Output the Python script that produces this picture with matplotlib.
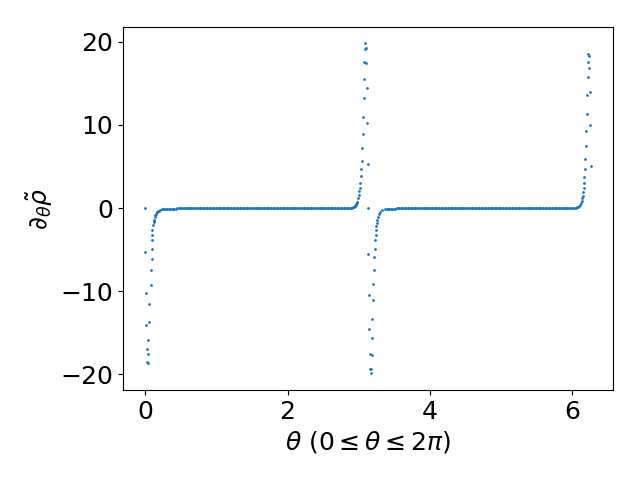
import matplotlib
matplotlib.use("Agg")
import matplotlib.pyplot as plt

# spike near theta = 0
theta_a = [0.0, 0.0, 0.014, 0.014, 0.03, 0.03, 0.044, 0.044, 0.044, 0.06, 0.06,
           0.075, 0.075, 0.09, 0.09, 0.10, 0.10, 0.10, 0.115, 0.12, 0.125, 0.13,
           0.138, 0.145, 0.15, 0.16, 0.168, 0.175, 0.19, 0.21, 0.23]
rho_a = [0.0, -5.3, -10.2, -14.1, -17.0, -18.5, -17.6, -18.6, -15.9, -13.7, -11.5,
         -9.3, -7.5, -6.1, -4.9, -3.9, -3.2, -2.6, -2.1, -1.7, -1.55, -1.4,
         -1.1, -0.85, -0.7, -0.5, -0.45, -0.38, -0.3, -0.2, -0.15]

# flat part between 0 and pi
theta_flat1 = [
    0.25, 0.27, 0.29, 0.31, 0.33, 0.35, 0.37, 0.39, 0.41, 0.43,
    0.45, 0.47, 0.49, 0.51, 0.53, 0.55, 0.57, 0.59, 0.61, 0.63,
    0.65, 0.67, 0.69, 0.71, 0.73, 0.75, 0.77, 0.79, 0.81, 0.83,
    0.85, 0.87, 0.89, 0.91, 0.93, 0.95, 0.97, 0.99, 1.01, 1.03,
    1.05, 1.07, 1.09, 1.11, 1.13, 1.15, 1.17, 1.19, 1.21, 1.23,
    1.25, 1.27, 1.29, 1.31, 1.33, 1.35, 1.37, 1.39, 1.41, 1.43,
    1.45, 1.47, 1.49, 1.51, 1.53, 1.55, 1.57, 1.59, 1.61, 1.63,
    1.65, 1.67, 1.69, 1.71, 1.73, 1.75, 1.77, 1.79, 1.81, 1.83,
    1.85, 1.87, 1.89, 1.91, 1.93, 1.95, 1.97, 1.99, 2.01, 2.03,
    2.05, 2.07, 2.09, 2.11, 2.13, 2.15, 2.17, 2.19, 2.21, 2.23,
    2.25, 2.27, 2.29, 2.31, 2.33, 2.35, 2.37, 2.39, 2.41, 2.43,
    2.45, 2.47, 2.49, 2.51, 2.53, 2.55, 2.57, 2.59, 2.61, 2.63,
    2.65, 2.67, 2.69, 2.71, 2.73, 2.75, 2.77, 2.79, 2.81, 2.83,
    2.85, 2.87, 2.89]
rho_flat1 = [
    -0.12, -0.12, -0.12, -0.12, -0.12, -0.12, -0.11, -0.10, -0.08, -0.06,
    -0.04, -0.03, -0.02, -0.02, -0.01, 0.0, 0.0, 0.0, 0.0, 0.0,
    0.0, 0.0, 0.0, 0.0, 0.0, 0.0, 0.0, 0.0, 0.0, 0.0,
    0.0, 0.0, 0.0, 0.0, 0.0, 0.0, 0.0, 0.0, 0.0, 0.0,
    0.0, 0.0, 0.0, 0.0, 0.0, 0.0, 0.0, 0.0, 0.0, 0.0,
    0.0, 0.0, 0.0, 0.0, 0.0, 0.0, 0.0, 0.0, 0.0, 0.0,
    0.0, 0.0, 0.0, 0.0, 0.0, 0.0, 0.0, 0.0, 0.0, 0.0,
    0.0, 0.0, 0.0, 0.0, 0.0, 0.0, 0.0, 0.0, 0.0, 0.0,
    0.0, 0.0, 0.0, 0.0, 0.0, 0.0, 0.0, 0.0, 0.0, 0.0,
    0.0, 0.0, 0.0, 0.0, 0.0, 0.0, 0.0, 0.0, 0.0, 0.0,
    0.0, 0.0, 0.0, 0.0, 0.0, 0.0, 0.0, 0.0, 0.0, 0.0,
    0.0, 0.0, 0.0, 0.0, 0.0, 0.0, 0.0, 0.0, 0.0, 0.0,
    0.0, 0.0, 0.0, 0.0, 0.0, 0.0, 0.0, 0.0, 0.01, 0.01,
    0.02, 0.02, 0.03]

# spike around theta = pi
theta_b = [2.90, 2.92, 2.935, 2.945, 2.95, 2.96, 2.965, 2.97, 2.98, 2.99,
           3.005, 3.005, 3.02, 3.02, 3.034, 3.034, 3.048, 3.048, 3.062, 3.062,
           3.076, 3.076, 3.076, 3.09, 3.09, 3.104, 3.104, 3.118, 3.118, 3.132,
           3.132, 3.132, 3.146, 3.146, 3.16, 3.16, 3.174, 3.174, 3.188, 3.188,
           3.188, 3.202, 3.202, 3.216, 3.216, 3.23, 3.23, 3.244, 3.244, 3.244,
           3.258, 3.258, 3.272, 3.285, 3.30, 3.33, 3.37, 3.39]
rho_b = [0.05, 0.1, 0.16, 0.22, 0.3, 0.38, 0.45, 0.58, 0.76, 1.2,
         1.6, 2.0, 2.4, 3.0, 3.8, 4.7, 5.7, 7.2, 8.9, 10.9,
         13.2, 15.5, 17.6, 19.1, 19.8, 19.2, 17.4, 14.4, 10.2, 5.3,
         0.0, -5.5, -10.4, -14.5, -17.6, -19.4, -19.3, -19.9, -17.7, -15.6,
         -13.3, -11.1, -9.1, -7.4, -5.9, -4.9, -3.9, -3.2, -2.6, -2.2,
         -1.8, -1.45, -1.05, -0.7, -0.48, -0.28, -0.16, -0.13]

# flat part between pi and 2 pi
theta_flat2 = [
    3.41, 3.43, 3.45, 3.47, 3.49, 3.51, 3.53, 3.55, 3.57, 3.59,
    3.61, 3.63, 3.65, 3.67, 3.69, 3.71, 3.73, 3.75, 3.77, 3.79,
    3.81, 3.83, 3.85, 3.87, 3.89, 3.91, 3.93, 3.95, 3.97, 3.99,
    4.01, 4.03, 4.05, 4.07, 4.09, 4.11, 4.13, 4.15, 4.17, 4.19,
    4.21, 4.23, 4.25, 4.27, 4.29, 4.31, 4.33, 4.35, 4.37, 4.39,
    4.41, 4.43, 4.45, 4.47, 4.49, 4.51, 4.53, 4.55, 4.57, 4.59,
    4.61, 4.63, 4.65, 4.67, 4.69, 4.71, 4.73, 4.75, 4.77, 4.79,
    4.81, 4.83, 4.85, 4.87, 4.89, 4.91, 4.93, 4.95, 4.97, 4.99,
    5.01, 5.03, 5.05, 5.07, 5.09, 5.11, 5.13, 5.15, 5.17, 5.19,
    5.21, 5.23, 5.25, 5.27, 5.29, 5.31, 5.33, 5.35, 5.37, 5.39,
    5.41, 5.43, 5.45, 5.47, 5.49, 5.51, 5.53, 5.55, 5.57, 5.59,
    5.61, 5.63, 5.65, 5.67, 5.69, 5.71, 5.73, 5.75, 5.77, 5.79,
    5.81, 5.83, 5.85, 5.87, 5.89, 5.91, 5.93, 5.95, 5.97, 5.99,
    6.01, 6.03, 6.05]
rho_flat2 = [
    -0.12, -0.11, -0.10, -0.09, -0.08, -0.06, -0.05, -0.04, -0.03, -0.02,
    -0.02, -0.01, -0.01, 0.0, 0.0, 0.0, 0.0, 0.0, 0.0, 0.0,
    0.0, 0.0, 0.0, 0.0, 0.0, 0.0, 0.0, 0.0, 0.0, 0.0,
    0.0, 0.0, 0.0, 0.0, 0.0, 0.0, 0.0, 0.0, 0.0, 0.0,
    0.0, 0.0, 0.0, 0.0, 0.0, 0.0, 0.0, 0.0, 0.0, 0.0,
    0.0, 0.0, 0.0, 0.0, 0.0, 0.0, 0.0, 0.0, 0.0, 0.0,
    0.0, 0.0, 0.0, 0.0, 0.0, 0.0, 0.0, 0.0, 0.0, 0.0,
    0.0, 0.0, 0.0, 0.0, 0.0, 0.0, 0.0, 0.0, 0.0, 0.0,
    0.0, 0.0, 0.0, 0.0, 0.0, 0.0, 0.0, 0.0, 0.0, 0.0,
    0.0, 0.0, 0.0, 0.0, 0.0, 0.0, 0.0, 0.0, 0.0, 0.0,
    0.0, 0.0, 0.0, 0.0, 0.0, 0.0, 0.0, 0.0, 0.0, 0.0,
    0.0, 0.0, 0.0, 0.0, 0.0, 0.0, 0.0, 0.0, 0.0, 0.0,
    0.0, 0.0, 0.0, 0.0, 0.0, 0.0, 0.0, 0.0, 0.01, 0.01,
    0.02, 0.03, 0.05]

# spike near theta = 2 pi
theta_c = [6.07, 6.08, 6.095, 6.105, 6.119, 6.133, 6.133, 6.147, 6.147, 6.161,
           6.161, 6.161, 6.175, 6.175, 6.189, 6.189, 6.203, 6.203, 6.217, 6.217,
           6.217, 6.231, 6.231, 6.245, 6.245, 6.259]
rho_c = [0.1, 0.16, 0.25, 0.33, 0.57, 0.9, 1.2, 1.5, 1.9, 2.4,
         3.0, 3.7, 4.7, 5.9, 7.4, 9.3, 11.3, 13.6, 15.7, 17.55,
         18.5, 18.3, 16.8, 13.9, 10.0, 5.1]

x_ticks = [0, 2, 4, 6]
y_ticks = [-20, -10, 0, 10, 20]

theta = theta_a + theta_flat1 + theta_b + theta_flat2 + theta_c
rho = rho_a + rho_flat1 + rho_b + rho_flat2 + rho_c

plt.figure(figsize=(6.4, 4.8), dpi=100)
plt.scatter(theta, rho, s=1)
plt.xlabel(r'$\theta\ (0 \leq \theta \leq 2\pi)$', fontsize=18)
plt.ylabel(r'$\partial_\theta\tilde{\rho}$', fontsize=18)
plt.xticks(x_ticks, fontsize=18)
plt.yticks(y_ticks, fontsize=18)
plt.subplots_adjust(left=0.192, right=0.958, top=0.944, bottom=0.1875)
plt.savefig('out.png')
